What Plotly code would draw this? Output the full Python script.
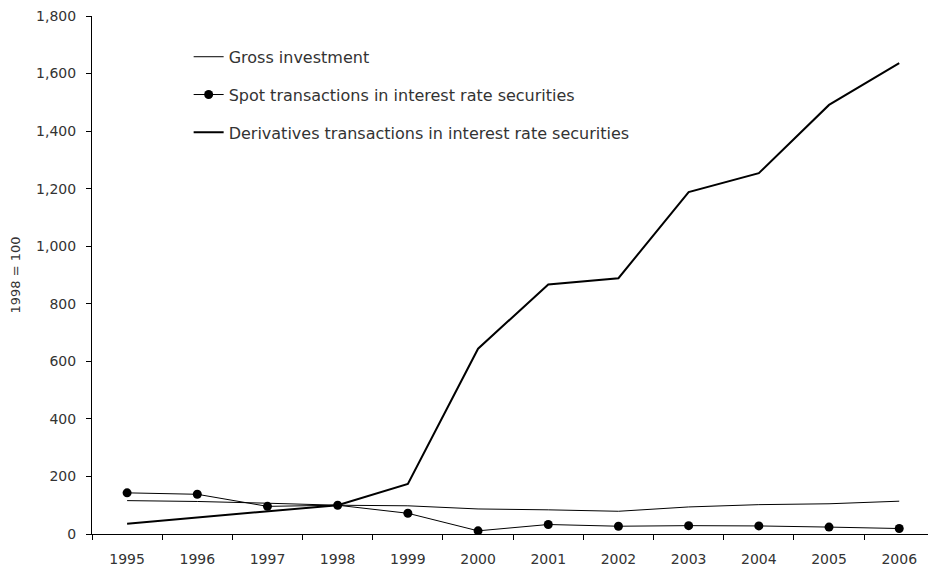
import plotly.graph_objects as go

years = ["1995", "1996", "1997", "1998", "1999", "2000", "2001", "2002", "2003", "2004", "2005", "2006"]
gross_investment = [116, 113, 107, 100, 98, 87, 84, 79, 94, 102, 105, 114]
spot_transactions = [143, 138, 96, 100, 72, 11, 33, 27, 29, 28, 24, 19]
derivatives_transactions = [36, 57, 79, 100, 174, 644, 867, 889, 1188, 1254, 1491, 1636]

FONT = "DejaVu Sans"

fig = go.Figure()
fig.add_trace(go.Scatter(x=years, y=gross_investment, mode="lines", name="Gross investment",
                         line=dict(color="black", width=1), legendgroup="a"))
fig.add_trace(go.Scatter(x=years, y=spot_transactions, mode="lines+markers",
                         name="Spot transactions in interest rate securities",
                         line=dict(color="black", width=1), marker=dict(color="black", size=9),
                         legendgroup="b"))
fig.add_trace(go.Scatter(x=years, y=derivatives_transactions, mode="lines",
                         name="Derivatives transactions in interest rate securities",
                         line=dict(color="black", width=2), legendgroup="c"))

fig.update_layout(
    width=928, height=572,
    margin=dict(l=92, r=0, t=16, b=38),
    paper_bgcolor="white", plot_bgcolor="white",
    font=dict(family=FONT, size=14, color="#333333"),
    showlegend=True,
    legend=dict(x=0.1156, y=0.954, xanchor="left", yanchor="top", bgcolor="rgba(0,0,0,0)",
                font=dict(size=16, color="#333333"), tracegroupgap=14),
    xaxis=dict(type="category", range=[-0.5, 11.41], tickson="boundaries", ticks="outside",
               ticklen=5, tickcolor="black", showline=True, linecolor="black", linewidth=1,
               showgrid=False, zeroline=False, tickfont=dict(size=14), automargin=False,
               ticklabelstandoff=12),
    yaxis=dict(range=[0, 1800], dtick=200, tickformat=",", ticks="outside", ticklen=5,
               tickcolor="black", showline=True, linecolor="black", linewidth=1,
               showgrid=False, zeroline=False, automargin=False, ticklabelstandoff=7,
               title=dict(text="1998 = 100", font=dict(size=13), standoff=12),
               tickfont=dict(size=14)),
)

fig.write_html("out.html", config={"displayModeBar": False},
               post_script="document.body.style.margin='0';document.body.style.padding='0';")
